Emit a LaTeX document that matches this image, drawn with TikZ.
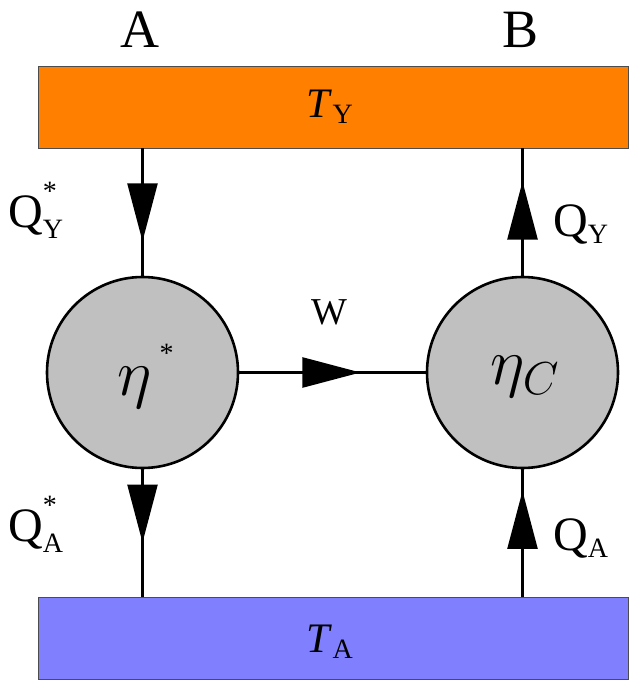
\RequirePackage{fix-cm}
\documentclass[tikz,border=0pt]{standalone}
\usepackage{amssymb,amsmath}
\usepackage{fontspec}
\setmainfont{Liberation Serif}
\usetikzlibrary{arrows.meta,decorations.markings}
\definecolor{hot1}{HTML}{FF8000}
\definecolor{cold1}{HTML}{8080FF}
\definecolor{engine1}{HTML}{C0C0C0}
\newcommand{\lil}[1]{\mbox{\fontsize{28}{28}\selectfont #1}}
\newcommand{\upstar}{\raisebox{9pt}{\lil{*}}}

\begin{document}
\begin{tikzpicture}[x=1pt, y=1pt,
  res/.style={draw=gray!60!black, line width=0.8pt, minimum width=590pt, minimum height=82pt, inner sep=0pt},
  eng/.style={circle, draw, line width=2.6pt, fill=engine1, minimum size=191pt, inner sep=0pt},
  flow/.style={line width=2.4pt, postaction={decorate}, decoration={markings,
    mark=at position #1 with {\arrow{Triangle[length=58pt,width=30pt]}}}},
  lbl/.style={inner sep=0pt, font=\fontsize{48}{48}\selectfont}]
\useasboundingbox (0,0) rectangle (629,-680);

% reservoirs
\node[res, fill=hot1] (hotY) at (333,-107) {};
\node[res, fill=cold1] (coldA) at (333,-638) {};
\node[inner sep=0pt, font=\fontsize{42}{42}\selectfont] (tY) at (330,-107) {\textit{T}$_{\lil{Y}}$};
\node[inner sep=0pt, font=\fontsize{42}{42}\selectfont] (tA) at (330,-642) {\textit{T}$_{\lil{A}}$};

% engines
\node[eng] (engA) at (142.5,-372.5) {};
\node[eng] (engB) at (522.5,-372.5) {};
\node[inner sep=0pt, font=\fontsize{66}{66}\selectfont] (etaA) at (146,-376) {$\eta^{\,\upstar}$};
\node[inner sep=0pt, font=\fontsize{66}{66}\selectfont] (etaB) at (525,-377) {$\eta_C$};

% column titles
\node[lbl, font=\fontsize{54}{54}\selectfont] (colA) at (140,-30) {A};
\node[lbl, font=\fontsize{54}{54}\selectfont] (colB) at (521,-30) {B};

% heat and work flows
\draw[flow=0.73] (engA.north |- hotY.south) -- (engA.north);
\draw[flow=0.74] (engB.north) -- (engB.north |- hotY.south);
\draw[flow=0.575] (engA.south) -- (engA.south |- coldA.north);
\draw[flow=0.83] (engB.south |- coldA.north) -- (engB.south);
\draw[flow=0.65] (engA.east) -- (engB.west);

% flow labels
\node[lbl, anchor=base west] (qYs) at (8,-227) {Q$^{\upstar}_{\lil{Y}}$};
\node[lbl, anchor=base west] (qY) at (553,-236) {Q$_{\lil{Y}}$};
\node[lbl, anchor=base west] (qAs) at (8,-541) {Q$^{\upstar}_{\lil{A}}$};
\node[lbl, anchor=base west] (qA) at (553,-550) {Q$_{\lil{A}}$};
\node[lbl, font=\fontsize{38}{38}\selectfont] (work) at (329,-312) {W};
\end{tikzpicture}
\end{document}
